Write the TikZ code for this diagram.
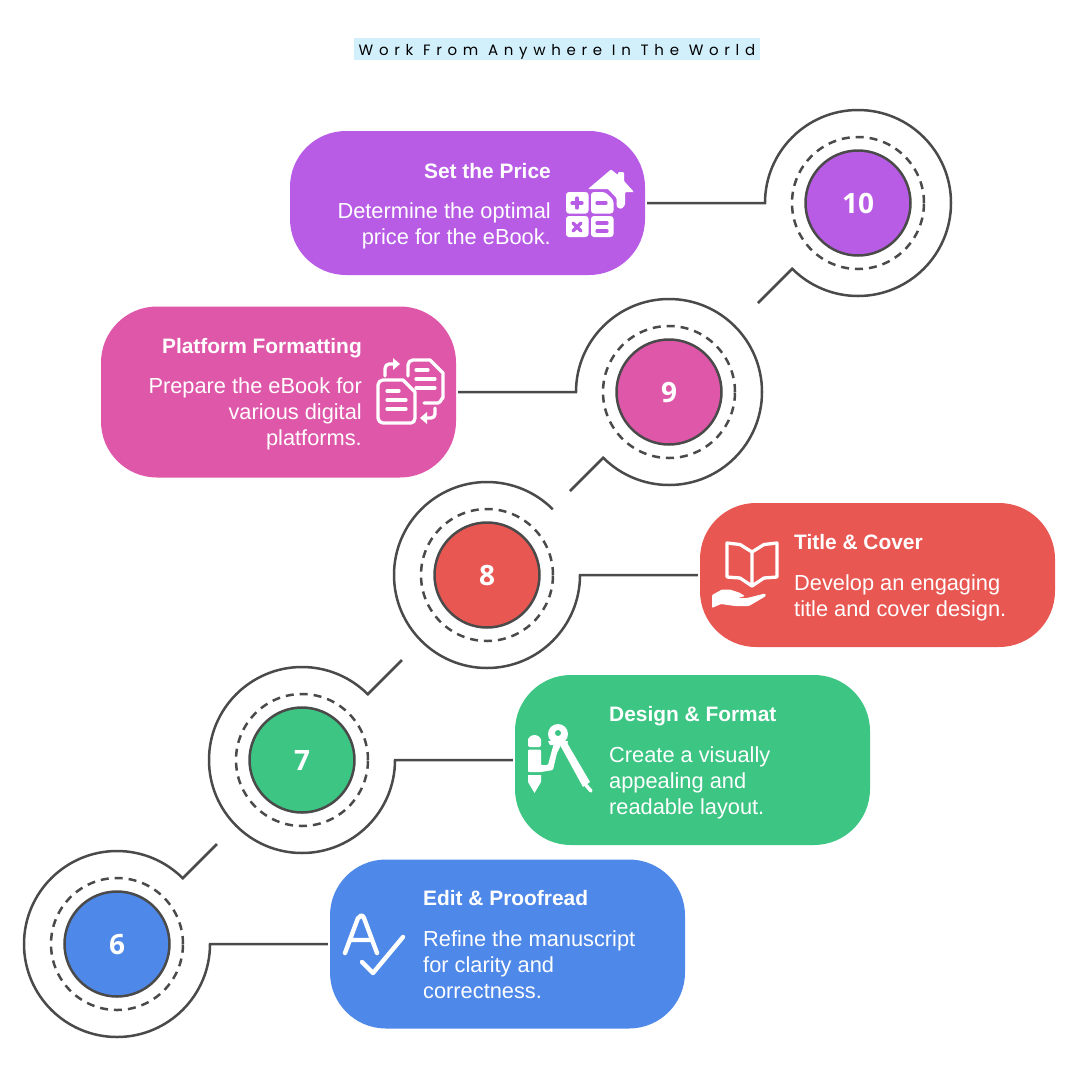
\documentclass[tikz,border=0pt]{standalone}
\usepackage{fontspec}
\setmainfont{Liberation Sans}
\newfontfamily\numfont{Open Sans}
\newfontfamily\titlefont[LetterSpace=38]{Poppins}
\definecolor{cpurple}{HTML}{B85CE6}
\definecolor{cpink}{HTML}{DF57A9}
\definecolor{cred}{HTML}{E85752}
\definecolor{cgreen}{HTML}{3CC583}
\definecolor{cblue}{HTML}{4E88E8}
\definecolor{cline}{HTML}{4A4A4A}
\definecolor{cbar}{HTML}{D2EFFC}
\tikzset{
  x=1pt,y=-1pt,
  stepbox/.style={fill=#1,draw=none,rounded corners=56pt,minimum width=355pt,inner sep=0pt},
  disc/.style={circle,fill=#1,draw=cline,line width=2.5pt,minimum size=105pt,inner sep=0pt,text=white,text height=20.4pt,text depth=0pt,font=\numfont\fontsize{28}{30}\selectfont\bfseries},
  ring/.style={circle,draw=cline,line width=2.5pt,dash pattern=on 8pt off 6pt,minimum size=132pt,inner sep=0pt},
  conn/.style={draw=cline,line width=2.5pt,line join=miter},
  head/.style={text=white,inner sep=0pt,font=\fontsize{20.9}{26}\selectfont\bfseries},
  body/.style={text=white,inner sep=0pt,font=\fontsize{21.8}{26.3}\selectfont},
  iconline/.style={draw=white,line width=4.4pt,line cap=round,line join=round},
  iconthin/.style={draw=white,line width=3.3pt,line cap=round,line join=round},
}
\begin{document}
\begin{tikzpicture}
\useasboundingbox (0,0) rectangle (1080,1080);
\fill[white] (0,0) rectangle (1080,1080);
% title
\node[fill=cbar,minimum width=406pt,minimum height=22pt,inner sep=0pt,text height=15pt,text depth=3pt,text=black,font=\titlefont\fontsize{15}{16}\selectfont] (title) at (557,49) {Work From Anywhere In The World};
% boxes
\node[stepbox=cpurple,minimum height=144pt] (b10) at (467.5,203) {};
\node[stepbox=cpink,minimum height=171pt] (b9) at (278.5,392) {};
\node[stepbox=cred,minimum height=144pt] (b8) at (877.5,575) {};
\node[stepbox=cgreen,minimum height=170pt] (b7) at (692.5,760) {};
\node[stepbox=cblue,minimum height=169pt] (b6) at (507.5,944) {};
% discs
\node[ring] (r10) at (858,203) {};
\node[disc=cpurple] (c10) at (858,203) {10};
\node[ring] (r9) at (669,392) {};
\node[disc=cpink] (c9) at (669,392) {9};
\node[ring] (r8) at (487,575) {};
\node[disc=cred] (c8) at (487,575) {8};
\node[ring] (r7) at (302,760) {};
\node[disc=cgreen] (c7) at (302,760) {7};
\node[ring] (r6) at (117,944) {};
\node[disc=cblue] (c6) at (117,944) {6};
% connector free ends
\coordinate (t10) at (758,303);
\coordinate (t9) at (570,491);
\coordinate (t7) at (402,660);
\coordinate (t6) at (217,844);
% connectors
\draw[conn] ([xshift=2pt]b10.east) -- ([xshift=-93pt]c10.center) arc[start angle=180,end angle=495,radius=93] -- (t10);
\draw[conn] ([xshift=2pt]b9.east) -- ([xshift=-93pt]c9.center) arc[start angle=180,end angle=495,radius=93] -- (t9);
\draw[conn] ([xshift=-2pt]b8.west) -- ([xshift=93pt]c8.center) arc[start angle=0,end angle=315,radius=93];
\draw[conn] ([xshift=-2pt]b7.west) -- ([xshift=93pt]c7.center) arc[start angle=0,end angle=315,radius=93] -- (t7);
\draw[conn] ([xshift=-2pt]b6.west) -- ([xshift=93pt]c6.center) arc[start angle=0,end angle=315,radius=93] -- (t6);
% texts
\node[head,anchor=base east] (h10) at (551,178) {Set the Price};
\node[body,anchor=north east,align=right] (d10) at (551,202) {Determine the optimal\\price for the eBook.};
\node[head,anchor=base east] (h9) at (362,353) {Platform Formatting};
\node[body,anchor=north east,align=right] (d9) at (362,377) {Prepare the eBook for\\various digital\\platforms.};
\node[head,anchor=base west] (h8) at (794,549) {Title \& Cover};
\node[body,anchor=north west,align=left] (d8) at (794,574) {Develop an engaging\\title and cover design.};
\node[head,anchor=base west] (h7) at (609,721) {Design \& Format};
\node[body,anchor=north west,align=left] (d7) at (609,746) {Create a visually\\appealing and\\readable layout.};
\node[head,anchor=base west] (h6) at (423,905) {Edit \& Proofread};
\node[body,anchor=north west,align=left] (d6) at (423,930) {Refine the manuscript\\for clarity and\\correctness.};
% icon: house and calculator
\fill[white,rounded corners=1pt] (588,189) -- (611,169.5) -- (618,175) -- (618,172) -- (624,172) -- (624,181) -- (634,192) -- (625,192) -- (625,205) -- (622,208.5) -- (619,208.5) -- (616.5,206) -- (616.5,198) -- (608,189) -- cycle;
\fill[white,rounded corners=3pt] (566,213.5) -- (566,192) -- (588.5,192) -- (588.5,213.5) -- cycle;
\fill[white,rounded corners=3pt] (591,213.5) -- (591,192) -- (605,192) -- (613.5,200) -- (613.5,213.5) -- cycle;
\fill[white,rounded corners=3pt] (566,237) -- (566,216) -- (588.5,216) -- (588.5,237) -- cycle;
\fill[white,rounded corners=3pt] (591,237) -- (591,216) -- (613.5,216) -- (613.5,237) -- cycle;
\begin{scope}[draw=cpurple,line width=3.2pt,line cap=round]
\draw (572,203) -- (582,203) (577,198) -- (577,208);
\draw (597,203) -- (606,203);
\draw (573,223) -- (581,231) (581,223) -- (573,231);
\draw (597,223) -- (607,223) (597,231) -- (607,231);
\end{scope}
% icon: documents
\draw[iconthin] (424,403) -- (438,403) to[out=0,in=90] (443,398) -- (443,373) -- (430,360) -- (413,360) to[out=180,in=90] (408,365) -- (408,376);
\draw[iconthin] (416,370) -- (428,370) (416,379) -- (435,379) (416,388) -- (435,388);
\draw[iconthin] (383,380) -- (403,380) -- (415,392) -- (415,418) to[out=-90,in=0] (411,423) -- (383,423) to[out=180,in=-90] (378,418) -- (378,385) to[out=90,in=180] cycle;
\draw[iconthin] (387,391) -- (399,391) (387,400) -- (406,400) (387,409) -- (406,409);
\draw[iconthin] (385,376) -- (385,369) to[out=90,in=180] (389,364) -- (394,364);
\fill[white] (393,358) -- (400,364) -- (393,370) -- cycle;
\draw[iconthin] (435,408) -- (435,414) to[out=-90,in=0] (431,418) -- (426,418);
\fill[white] (427,412) -- (420,418) -- (427,424) -- cycle;
% icon: book and hand
\draw[iconthin] (752,552) -- (740,544.5) -- (727,543) -- (727,577) -- (740,578) -- (752,586) -- (764,578) -- (777,577) -- (777,543) -- (764,544.5) -- cycle (752,552) -- (752,586);
\fill[white,rounded corners=1pt] (712,595) -- (722,589.5) -- (730,589.5) -- (739,592.5) -- (745,596) -- (738,598) -- (747,598) -- (765,593.5) -- (766,596) -- (749,606) -- (735,606) -- (721,604) -- (712,608) -- cycle;
% icon: compass and pencil
\fill[white,rounded corners=1.5pt] (528,747) -- (528,741.5) arc[start angle=180,end angle=360,radius=6.5] -- (541,747) -- cycle;
\fill[white,rounded corners=1pt] (528,749.5) -- (541,749.5) -- (541,765) -- (548,765) -- (552,750) -- (554,743) -- (561,745) -- (557,753) -- (553,770) -- (541,772) -- (528,772) -- cycle;
\fill[white] (528,775) -- (541,775) -- (541,782) -- (534.5,793) -- (528,782) -- cycle;
\fill[white] (558,734) circle[radius=10];
\fill[white] (548,741) -- (568,741) -- (567,745) -- (550,745) -- cycle;
\fill[cgreen] (558,733) circle[radius=3];
\fill[white] (560,745) -- (566,741) -- (590,782) -- (583,787) -- cycle;
\draw[white,line width=3.5pt,line cap=round] (585,784) -- (591,791);
% icon: A and check
\draw[iconline] (345,953) -- (358,918) to[out=-70,in=180] (361,915.5) to[out=0,in=110] (364,918) -- (377,953) (350,940) -- (372,940);
\draw[iconline] (362,962) -- (373,973) -- (403,937);
\end{tikzpicture}
\end{document}
